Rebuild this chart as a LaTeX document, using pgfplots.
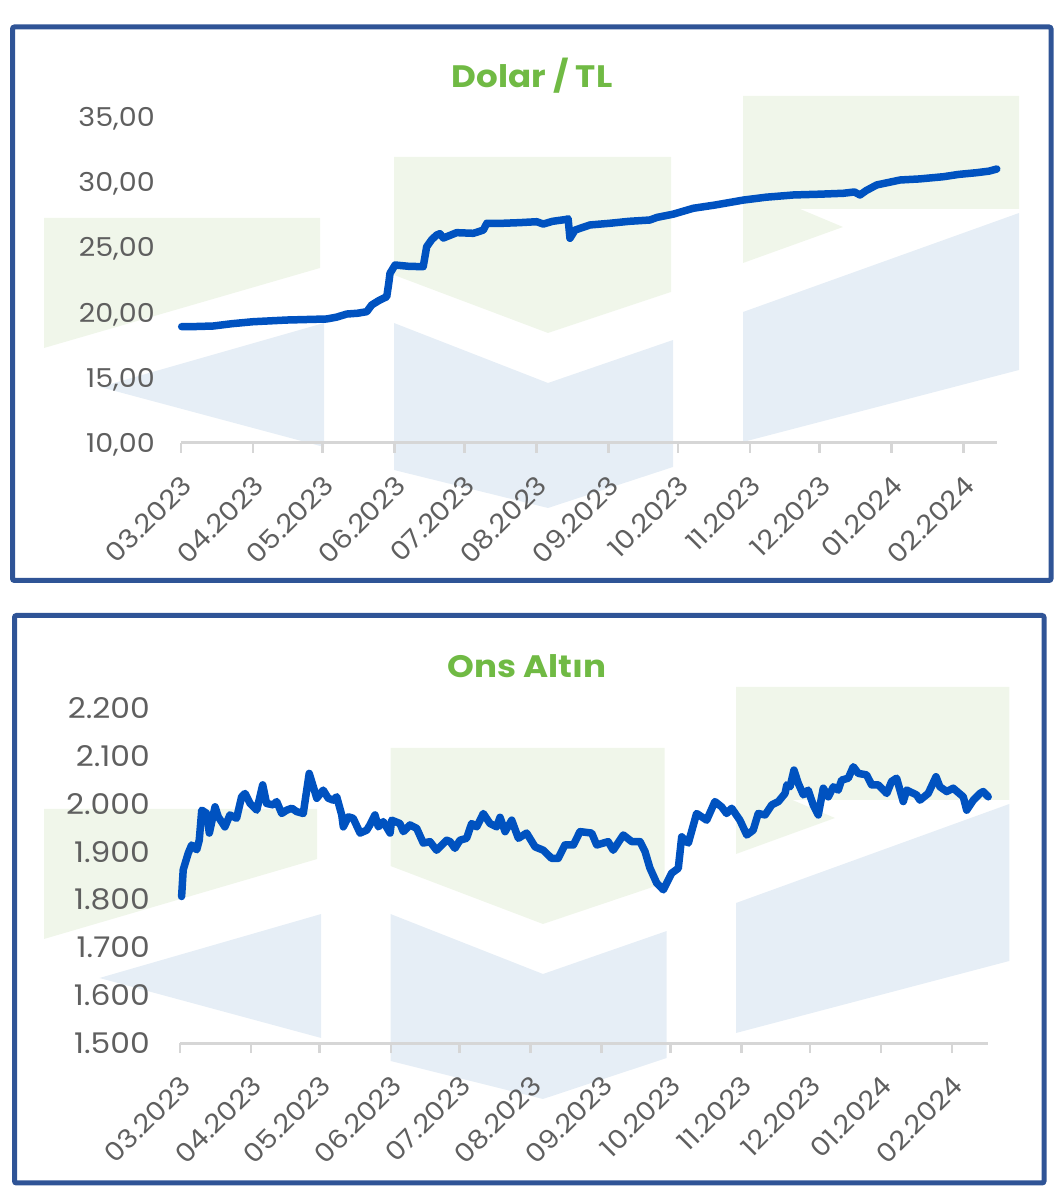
\documentclass[border=0pt]{standalone}
\usepackage{pgfplots}
\pgfplotsset{compat=1.18}
\usepackage{fontspec}
\setmainfont{Poppins}[FakeStretch=1.1]
\definecolor{frameblue}{RGB}{47,84,150}
\definecolor{titlegreen}{RGB}{112,186,68}
\definecolor{linecol}{RGB}{0,82,192}
\definecolor{wmgreen}{RGB}{240,246,234}
\definecolor{wmblue}{RGB}{230,238,246}
\definecolor{tickgray}{RGB}{95,95,95}
\definecolor{axgray}{RGB}{214,214,214}

\newcommand{\watermark}{%
 \fill[wmgreen] (44,218)--(320,218)--(320,268)--(44,348)--cycle;
 \fill[wmgreen] (394,157)--(671,157)--(671,292)--(548,333)--(394,275)--cycle;
 \fill[wmgreen] (743,96)--(1019,96)--(1019,209)--(800,209)--(843,227)--(743,263)--cycle;
 \fill[wmblue] (100,387)--(324,323)--(324,447)--cycle;
 \fill[wmblue] (394,323)--(548,383)--(673,340)--(673,467)--(548,508)--(394,470)--cycle;
 \fill[wmblue] (743,312)--(1019,213)--(1019,370)--(743,442)--cycle;
}

\pgfplotsset{
  panel/.style={
    scale only axis,
    clip=false,
    axis x line*=bottom,
    axis y line*=left,
    y axis line style={draw=none},
    x axis line style={-, draw=axgray, line width=3pt},
    ytick style={draw=none},
    xtick style={draw=axgray, line width=2.5pt},
    tick align=outside,
    major tick length=10pt,
    xmin=0,
    xtick={0,31,61,92,122,153,184,214,245,275,306,337},
    xticklabels={03.2023,04.2023,05.2023,06.2023,07.2023,08.2023,09.2023,10.2023,11.2023,12.2023,01.2024,02.2024},
    xticklabel style={xshift=6pt, yshift=-28pt, rotate=45, anchor=east, inner sep=0pt,
      font=\fontsize{26}{30}\selectfont, text=tickgray},
    yticklabel style={anchor=base east, inner sep=0pt,
      font=\fontsize{26}{30}\selectfont, text=tickgray},
  },
  dataline/.style={linecol, line width=7.5pt, line join=round, line cap=round},
}

\begin{document}
\begin{tikzpicture}
\path[use as bounding box] (0,0) rectangle (1055pt,1195pt);
% top panel decoration
\begin{scope}[x=1pt, y=-1pt, yshift=1195pt]
  \watermark
  \draw[frameblue, line width=5pt, rounded corners=2pt] (12.5,27) rectangle (1051,580.5);
  \node[font=\bfseries\fontsize{31}{36}\selectfont, text=titlegreen] at (532,76) {Dolar / TL};
\end{scope}
% bottom panel decoration
\begin{scope}[x=0.99pt, y=-1pt, xshift=0.44pt, yshift=604pt]
  \watermark
\end{scope}
\begin{scope}[x=1pt, y=-1pt, yshift=1195pt]
  \draw[frameblue, line width=5pt, rounded corners=2pt] (14.5,615.5) rectangle (1044,1183);
  \node[font=\bfseries\fontsize{31}{36}\selectfont, text=titlegreen] at (527,666) {Ons Altın};
\end{scope}

\begin{axis}[panel,
  at={(181pt,752pt)}, anchor=south west,
  width=816pt, height=326pt,
  xmax=351.4, ymin=10, ymax=35,
  ytick={10,15,20,25,30,35},
  yticklabels={{10,00},{15,00},{20,00},{25,00},{30,00},{35,00}},
  yticklabel style={xshift=-16pt, yshift=-9.5pt},
]
\addplot[dataline] coordinates {
(0.3,18.92) (6,18.93) (13.8,18.97) (22,19.15) (31,19.30) (45.5,19.43) (62.7,19.51)
(67,19.65) (71.4,19.89) (76,19.95) (80,20.07) (82.1,20.58) (85,20.9) (88.6,21.22)
(89.5,22.3) (90,23.01) (92.2,23.65) (98,23.55) (104.3,23.52) (105.8,25.05) (108,25.6)
(110.1,25.95) (111.5,26.05) (113,25.72) (118.7,26.13) (125.9,26.08) (128,26.2)
(130.2,26.33) (131.7,26.85) (138.8,26.85) (146,26.9) (153.2,26.97) (156,26.79)
(160,27.0) (166.1,27.15) (166.7,27.2) (167.5,25.70) (169.7,26.33) (176.1,26.72)
(184.7,26.85) (193,27.0) (201.9,27.10) (205,27.3) (212,27.55) (220.6,28.00)
(230,28.25) (242.2,28.63) (252,28.85) (263.7,29.02) (275,29.08) (285.2,29.15)
(290,29.25) (292.4,29.02) (295,29.35) (299.6,29.79) (309.7,30.17) (318,30.25)
(328.3,30.42) (335,30.6) (342.7,30.73) (348,30.85) (351.3,31.01)
};
\end{axis}

\begin{axis}[panel,
  at={(180pt,152pt)}, anchor=south west,
  width=808pt, height=334pt,
  xmax=352.7, ymin=1500, ymax=2200,
  ytick={1500,1600,1700,1800,1900,2000,2100,2200},
  yticklabels={1.500,1.600,1.700,1.800,1.900,2.000,2.100,2.200},
  yticklabel style={xshift=-20pt, yshift=-10pt, font=\fontsize{28.5}{32}\selectfont},
]
\addplot[dataline] coordinates {
(0.7,1807) (1.4,1863) (3.6,1898) (5.1,1915) (7.3,1905) (8.4,1925) (9.5,1988)
(11.7,1981) (12.8,1940) (15.3,1995) (16.7,1974) (19.6,1953) (21.8,1978) (24.7,1971)
(26.9,2016) (28.4,2023) (30.6,2002) (33.5,1988) (36.1,2041) (37.8,2002) (40.7,1999)
(42.2,2006) (44.4,1981) (46.6,1988) (48.8,1992) (50.9,1985) (53.8,1981) (56.4,2065)
(58.2,2037) (59.7,2013) (62.5,2030) (64.7,2013) (66.9,2009) (68.4,2016) (70.6,1978)
(71.3,1953) (73.5,1974) (75.6,1971) (78.6,1940) (81.5,1946) (82.9,1957) (85.1,1978)
(86.6,1953) (88.7,1964) (91.7,1940) (92.4,1967) (96.0,1960) (97.5,1943) (100.4,1957)
(103.3,1950) (106.2,1919) (109.1,1922) (112.0,1904) (116.4,1925) (117.9,1922)
(120.0,1908) (122.2,1925) (125.1,1929) (127.3,1960) (129.5,1953) (132.4,1981)
(135.3,1960) (138.2,1953) (139.7,1973) (141.9,1943) (144.8,1967) (147.7,1929)
(151.3,1940) (155.0,1911) (158.6,1904) (162.2,1887) (165.1,1887) (168.0,1915)
(171.7,1915) (174.6,1943) (179.7,1940) (181.9,1915) (186.9,1922) (189.1,1904)
(193.5,1936) (197.2,1922) (200.8,1922) (203.0,1901) (205.1,1867) (208.1,1835)
(211.0,1821) (214.6,1856) (217.5,1866) (219.0,1932) (221.9,1919) (225.5,1981)
(229.9,1967) (233.5,2006) (236.4,1995) (238.6,1981) (240.8,1992) (244.4,1967)
(247.4,1936) (250.2,1946) (252.4,1981) (255.4,1978) (258.3,1999) (261.2,2006)
(264.1,2023) (264.9,2041) (266.3,2037) (268.0,2072) (269.9,2044) (272.1,2020)
(274.2,2030) (276.4,1999) (278.6,1978) (280.8,2034) (283.0,2016) (285.2,2037)
(287.3,2030) (288.8,2051) (291.7,2055) (293.9,2079) (296.1,2065) (299.7,2062)
(301.9,2041) (304.8,2041) (308.5,2023) (310.6,2048) (312.8,2055) (315.7,2006)
(317.2,2030) (321.5,2020) (323.0,2009) (326.6,2023) (330.0,2058) (331.7,2037)
(334.7,2027) (337.5,2034) (341.9,2016) (343.4,1988) (346.3,2009) (349.2,2023)
(350.6,2027) (352.8,2016)
};
\end{axis}
\end{tikzpicture}
\end{document}
